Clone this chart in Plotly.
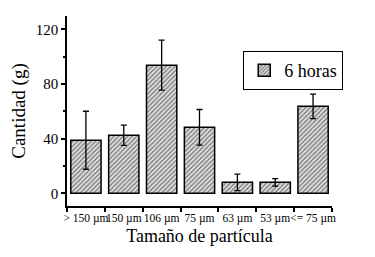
import plotly.graph_objects as go

categories = ["> 150 µm", "150 µm", "106 µm", "75 µm", "63 µm", "53 µm", "<= 75 µm"]
values = [38.8, 42.4, 93.7, 48.3, 8.0, 8.0, 63.6]
errors = [21.2, 7.4, 18.3, 13.0, 6.0, 2.8, 9.0]
series_name = "6 horas"

FONT = "Liberation Serif"

fig = go.Figure()
fig.add_trace(go.Bar(
    x=categories, y=values, name=series_name,
    width=0.8,
    marker=dict(
        color="#d9d9d9",
        line=dict(color="black", width=1.5),
        pattern=dict(shape="/", size=3.2, solidity=0.45, fgcolor="#111111", bgcolor="#e6e6e6"),
    ),
    error_y=dict(type="data", array=errors, visible=True, color="black", thickness=1.3, width=3),
    showlegend=True,
))

# the page body adds an 8 px offset; margins compensate so the plot lands where the reference's does
fig.update_layout(
    width=375, height=257,
    margin=dict(l=54, r=51, t=8, b=59),
    paper_bgcolor="white", plot_bgcolor="white",
    font=dict(family=FONT, color="black", size=14),
    showlegend=True,
    legend=dict(
        x=0.665, y=0.815, xanchor="left", yanchor="top",
        bordercolor="black", borderwidth=1, bgcolor="white",
        font=dict(family=FONT, size=18, color="black"),
        itemwidth=30,
    ),
    xaxis=dict(
        range=[-0.5, 6.5], showline=True, linecolor="black", linewidth=1.5,
        ticks="outside", tickson="boundaries", ticklen=4, tickcolor="black", tickwidth=1.5,
        tickangle=0,
        tickfont=dict(family=FONT, size=11.5),
        title=dict(text="Tamaño de partícula", font=dict(family=FONT, size=18), standoff=6),
        showgrid=False, zeroline=False,
    ),
    yaxis=dict(
        range=[-9.3, 129.7], showline=True, linecolor="black", linewidth=1.5,
        ticks="outside", ticklen=4, tickcolor="black", tickwidth=1.5,
        tickvals=[0, 40, 80, 120],
        minor=dict(tickvals=[20, 60, 100], ticks="outside", ticklen=2, tickcolor="black", tickwidth=1.5),
        tickfont=dict(family=FONT, size=15),
        title=dict(text="Cantidad (g)", font=dict(family=FONT, size=19), standoff=6),
        showgrid=False, zeroline=False,
    ),
)

fig.write_html("out.html")
